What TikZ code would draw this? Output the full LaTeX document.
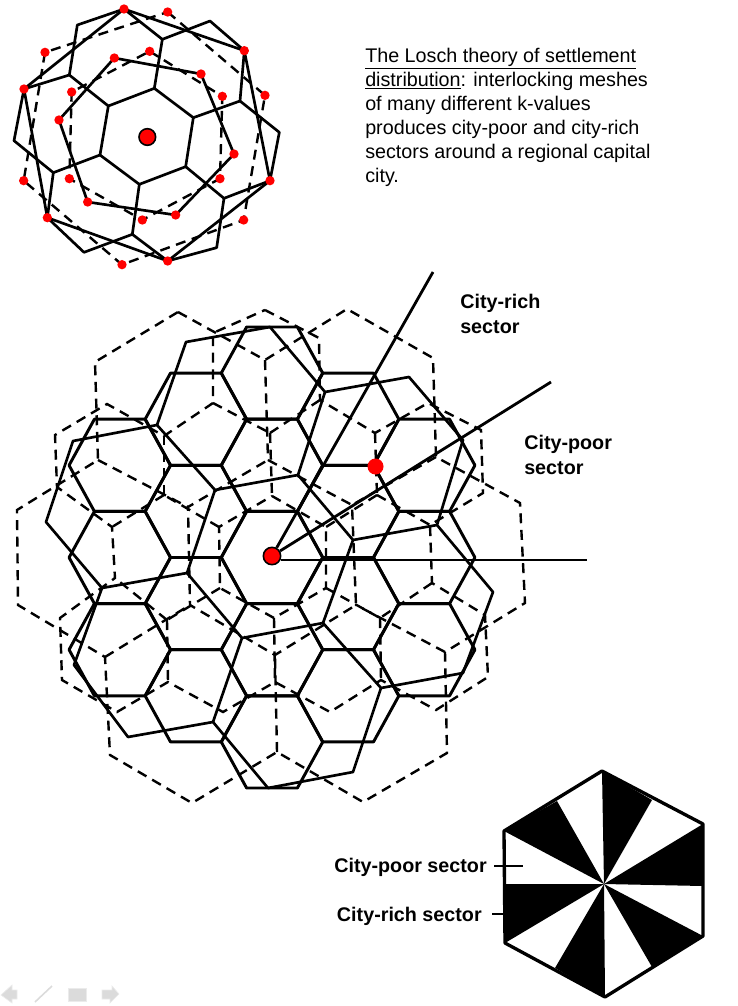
\documentclass[tikz,border=0pt]{standalone}
\usepackage{fontspec}
\setmainfont{Liberation Sans}
\usetikzlibrary{positioning}

\begin{document}
\begin{tikzpicture}[
    x=0.75pt, y=-0.75pt,
    solidline/.style={draw, line width=2.2pt, line join=round},
    meshline/.style={draw, line width=2pt, line join=round},
    rayline/.style={draw, line width=2.1pt},
    dashline/.style={draw, line width=1.8pt, dash pattern=on 7.5pt off 5pt},
    reddot/.style={circle, fill=red, inner sep=0pt, minimum size=7pt},
    bigdot/.style={circle, fill=red, draw=black, line width=1.2pt, inner sep=0pt, minimum size=12.5pt},
    bodytext/.style={font=\fontsize{14.8}{18}\selectfont, align=left, inner sep=0pt},
    boldlbl/.style={font=\fontsize{14.8}{18.5}\selectfont\bfseries, align=left, inner sep=0pt},
    navicon/.style={fill=black!14, draw=black!8, line width=0.5pt}
]
\useasboundingbox (0,0) rectangle (738,1006);

% ---- Small scheme, top left ----
\begin{scope}[scale=0.33333]
    \draw[dashline] (503,36) -- (795,286) -- (731,660) -- (366,794) -- (71,542) -- (135,157) -- cycle;
    \draw[dashline] (449,154) -- (667,289) -- (660,536) -- (427,660) -- (208,536) -- (215,276) -- cycle;
    \draw[meshline] (343,174) -- (603,222) -- (702,462) -- (527,645) -- (263,606) -- (177,360) -- cycle;
    \draw[meshline] (463,265) -- (580,353) -- (557,500) -- (418,553) -- (300,465) -- (325,318) -- cycle;
    \draw[meshline] (372,27) -- (733,152) -- (810,542) -- (503,783) -- (142,653) -- (72,267) -- cycle;
    \draw[meshline] (372,27) -- (487,118) -- (630,63) -- (733,152) -- (720,303) -- (838,397) -- (810,542)
        -- (672,595) -- (650,743) -- (503,783) -- (397,703) -- (252,757) -- (142,653) -- (160,518)
        -- (42,422) -- (72,267) -- (208,225) -- (232,75) -- cycle;
    \foreach \xa/\ya/\xb/\yb in {463/265/487/118, 580/353/720/303, 557/500/672/595,
                                 418/553/397/703, 300/465/160/518, 325/318/208/225}
        \draw[meshline] (\xa,\ya) -- (\xb,\yb);
    \foreach \dx/\dy [count=\i] in {372/27, 503/36, 135/157, 733/152, 343/174, 449/154, 603/222, 72/267,
                                    215/276, 667/289, 795/286, 177/360, 702/462, 71/542, 208/536, 660/536,
                                    810/542, 263/606, 527/645, 142/653, 427/660, 731/660, 503/783, 366/794}
        \node[reddot] (dot\i) at (\dx,\dy) {};
    \node[bigdot] (capital) at (442,411) {};
\end{scope}

% ---- Text ----
\node[bodytext, anchor=north west] (intro) at (365,48)
    {\underline{The Losch theory of settlement}\\
     \underline{distribution}: interlocking meshes\\
     of many different k-values\\
     produces city-poor and city-rich\\
     sectors around a regional capital\\
     city.};
\node[boldlbl, anchor=north west] (richlbl) at (460,294) {City-rich\\sector};
\node[boldlbl, anchor=north west] (poorlbl) at (524,435) {City-poor\\sector};

% ---- Large dashed hexagons ----
\draw[dashline] (178,312) -- (265,360) -- (347,309) -- (433,358) -- (436,457) -- (520,503) -- (525,603)
    -- (445,652) -- (447,753) -- (363,802) -- (277,752) -- (192,803) -- (110,755) -- (105,657)
    -- (18,605) -- (17,510) -- (98,460) -- (95,362) -- cycle;
\draw[dashline] (268,460) -- (352,505) -- (356,605) -- (275,655) -- (190,605) -- (188,507) -- cycle;
\foreach \xa/\ya/\xb/\yb in {265/360/268/460, 436/457/352/505, 445/652/356/605,
                             277/752/275/655, 105/657/190/605, 98/460/188/507}
    \draw[dashline] (\xa,\ya) -- (\xb,\yb);

% ---- Small dashed hexagons ----
\draw[dashline] (265,310) -- (319,338) -- (320,400) -- (375,433) -- (428,403) -- (481,430) -- (483,493)
    -- (430,525) -- (432,583) -- (485,615) -- (488,677) -- (436,710) -- (381,680) -- (330,712)
    -- (275,682) -- (223,712) -- (168,682) -- (117,712) -- (62,680) -- (60,618) -- (115,578)
    -- (112,527) -- (57,487) -- (55,435) -- (107,404) -- (164,436) -- (213,403) -- (213,333) -- cycle;
\draw[dashline] (272,496) -- (326,527) -- (326,588) -- (274,618) -- (220,588) -- (219,527) -- cycle;
\foreach \xa/\ya/\xb/\yb in {213/403/270/433, 320/400/270/433, 270/433/272/496, 375/433/377/495,
                             377/495/326/527, 377/495/430/525, 326/588/380/618, 432/583/380/618,
                             380/618/381/680, 274/618/275/682, 220/588/167/620, 167/620/115/578,
                             167/620/168/682, 219/527/164/495, 164/495/112/527, 164/495/164/436}
    \draw[dashline] (\xa,\ya) -- (\xb,\yb);

% ---- Solid honeycomb ----
\foreach \col/\row in {0/0, 0/-2, 0/2, 0/-4, 0/4, 1/1, 1/-1, -1/1, -1/-1, 1/3, 1/-3, -1/3, -1/-3,
                       2/0, -2/0, 2/2, 2/-2, -2/2, -2/-2} {
    \pgfmathsetmacro{\cx}{272+76.1*\col}
    \pgfmathsetmacro{\cy}{557.5+46.1*\row}
    \draw[solidline, shift={(\cx,\cy)}] (50.75,0) -- (25.4,46.1) -- (-25.4,46.1) -- (-50.75,0)
        -- (-25.4,-46.1) -- (25.4,-46.1) -- cycle;
}

% ---- Rotated solid mesh ----
\draw[meshline] (215,490) -- (298,475) -- (353,540) -- (323,623) -- (242,638) -- (187,573) -- cycle;
\draw[meshline] (325,392) -- (270,327) -- (186,342) -- (157,425) -- (73,441) -- (46,522) -- (102,588)
    -- (74,665) -- (128,737) -- (213,722) -- (268,788) -- (353,772) -- (381,688) -- (463,673)
    -- (493,592) -- (437,525) -- (463,440) -- (409,377) -- cycle;
\foreach \xa/\ya/\xb/\yb in {298/475/325/392, 353/540/437/525, 323/623/381/688,
                             242/638/213/722, 187/573/102/588, 215/490/157/425}
    \draw[meshline] (\xa,\ya) -- (\xb,\yb);

% ---- Sector rays ----
\node[bigdot, minimum size=13pt] (centre) at (272,556) {};
\node[reddot, minimum size=12pt] (town) at (375.5,466.5) {};
\coordinate (rayrich) at (433,272);
\coordinate (raypoor) at (551,382);
\coordinate (rayflat) at (587,560);
\draw[rayline] (centre) -- (rayrich);
\draw[rayline] (centre) -- (raypoor);
\draw[rayline] (centre.east |- rayflat) -- (rayflat);

% ---- Sector hexagon, bottom right ----
\foreach \xa/\ya/\xb/\yb in {602/771/652/800, 703/824/703/886, 703/936/652/967,
                             605/997/555/968, 505/943/504/884, 504/831/557/801}
    \fill[black] (604,884) -- (\xa,\ya) -- (\xb,\yb) -- cycle;
\draw[line width=2.5pt, line join=round] (602,771) -- (703,824) -- (703,936) -- (605,997) -- (505,943) -- (504,831) -- cycle;

\node[boldlbl, anchor=east] (poorsector) at (487,867) {City-poor sector};
\node[boldlbl, anchor=east] (richsector) at (482,916) {City-rich sector};
\coordinate (poortick) at (523,866);
\coordinate (richtick) at (505,914);
\draw[rayline] (494,866) -- (poortick);
\draw[rayline] (492,914) -- (richtick);

% ---- Slide show icons ----
\filldraw[navicon] (1,995) -- (12,985) -- (12,990) -- (17,990) -- (17,999) -- (12,999) -- (12,1003) -- cycle;
\draw[black!14, line width=1.2pt] (35,1002) -- (52,986);
\filldraw[navicon] (68,988) rectangle (86,1001);
\filldraw[navicon] (102,990) -- (112,990) -- (112,986) -- (119,994) -- (110,1003) -- (110,999) -- (102,999) -- cycle;

\end{tikzpicture}
\end{document}
